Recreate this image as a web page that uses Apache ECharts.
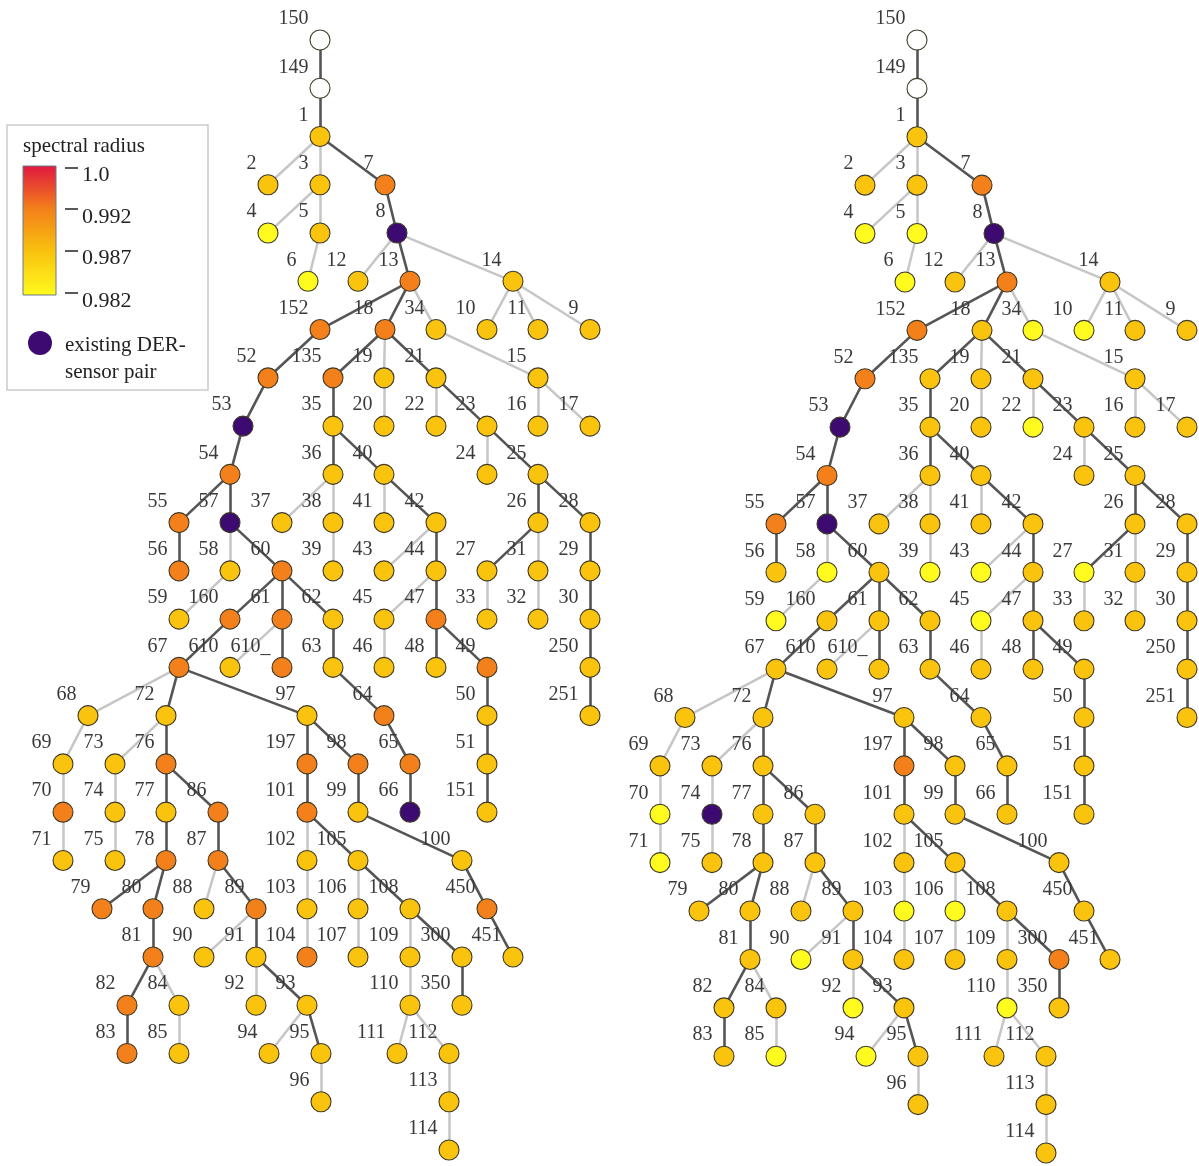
<!DOCTYPE html>
<html>
<head>
<meta charset="utf-8">
<script src="https://cdn.jsdelivr.net/npm/echarts@6/dist/echarts.min.js"></script>
<style>
html,body{margin:0;padding:0;background:#fff;}
#chart{width:1199px;height:1166px;}
</style>
</head>
<body>
<div id="chart"></div>
<script>
// ---------- DATA ----------
const nodeNames = ['150','149','1','2','3','7','4','5','8','6','12','13','14','152','18','34','10','11','9','52','135','19','21','15','53','35','20','22','23','16','17','54','36','40','24','25','55','57','37','38','41','42','26','28','56','58','60','39','43','44','27','31','29','59','160','61','62','45','47','33','32','30','67','610','610_','63','46','48','49','250','68','72','97','64','50','251','69','73','76','197','98','65','51','70','74','77','86','101','99','66','151','71','75','78','87','102','105','100','79','80','88','89','103','106','108','450','81','90','91','104','107','109','300','451','82','84','92','93','110','350','83','85','94','95','111','112','96','113','114'];

// horizontal layout coordinate of each bus (same layout for both panels)
const layoutX = [320,320,320,268,320,385,268,320,397,308,358,410,513,320,385,436,487,538,590,268,333,384,436,538,243,333,384,436,487,538,590,230,333,384,487,538,179,230,282,333,384,436,538,590,179,230,282,333,384,436,487,538,590,179,230,282,333,384,436,487,538,590,179,230,282,333,384,436,487,590,88,166,307,384,487,590,63,115,166,307,358,410,487,63,115,166,218,307,358,410,487,63,115,166,218,307,358,462,102,153,204,256,307,358,410,487,153,204,256,307,358,410,462,513,127,179,256,307,410,462,127,179,269,321,397,449,321,449,449];

// depth level (row) of each bus
const layoutLevel = [0,1,2,3,3,3,4,4,4,5,5,5,5,6,6,6,6,6,6,7,7,7,7,7,8,8,8,8,8,8,8,9,9,9,9,9,10,10,10,10,10,10,10,10,11,11,11,11,11,11,11,11,11,12,12,12,12,12,12,12,12,12,13,13,13,13,13,13,13,13,14,14,14,14,14,14,15,15,15,15,15,15,15,16,16,16,16,16,16,16,16,17,17,17,17,17,17,17,18,18,18,18,18,18,18,18,19,19,19,19,19,19,19,19,20,20,20,20,20,20,21,21,21,21,21,21,22,22,23];

// spectral radius per bus, left panel (null = source / DER node)
const leftRadius = [
  null,null,0.987,
  0.987,0.987,0.992,
  0.982,0.987,null,
  0.982,0.987,0.992,0.987,
  0.992,0.992,0.987,0.987,0.987,0.987,
  0.992,0.992,0.987,0.987,0.987,
  null,0.987,0.987,0.987,0.987,0.987,0.987,
  0.992,0.987,0.987,0.987,0.987,
  0.992,null,0.987,0.987,0.987,0.987,0.987,0.987,
  0.992,0.987,0.992,0.987,0.987,0.987,0.987,0.987,0.987,
  0.987,0.992,0.992,0.987,0.987,0.992,0.987,0.987,0.987,
  0.992,0.987,0.992,0.987,0.987,0.987,0.992,0.987,
  0.987,0.987,0.987,0.992,0.987,0.987,
  0.987,0.987,0.992,0.992,0.992,0.992,0.987,
  0.992,0.987,0.987,0.992,0.992,0.987,null,0.987,
  0.987,0.987,0.992,0.992,0.987,0.987,0.987,
  0.992,0.992,0.987,0.992,0.987,0.987,0.987,0.992,
  0.992,0.987,0.987,0.992,0.987,0.987,0.987,0.987,
  0.992,0.987,0.987,0.987,0.987,0.987,
  0.992,0.987,0.987,0.987,0.987,0.987,
  0.987,0.987,
  0.987
];
// spectral radius per bus, right panel
const rightRadius = [
  null,null,0.987,
  0.987,0.987,0.992,
  0.982,0.982,null,
  0.982,0.987,0.992,0.987,
  0.992,0.987,0.982,0.982,0.987,0.987,
  0.992,0.987,0.987,0.987,0.987,
  null,0.987,0.987,0.982,0.987,0.987,0.987,
  0.992,0.987,0.987,0.987,0.987,
  0.992,null,0.987,0.987,0.987,0.987,0.987,0.987,
  0.987,0.982,0.987,0.982,0.982,0.987,0.982,0.987,0.987,
  0.982,0.987,0.987,0.987,0.982,0.987,0.987,0.987,0.987,
  0.987,0.987,0.987,0.987,0.987,0.987,0.987,0.987,
  0.987,0.987,0.987,0.987,0.987,0.987,
  0.987,0.987,0.987,0.992,0.987,0.987,0.987,
  0.982,null,0.987,0.987,0.987,0.987,0.987,0.987,
  0.982,0.987,0.987,0.987,0.987,0.987,0.987,
  0.987,0.987,0.987,0.987,0.982,0.982,0.987,0.987,
  0.987,0.982,0.987,0.987,0.987,0.987,0.992,0.987,
  0.987,0.987,0.982,0.987,0.982,0.987,
  0.987,0.982,0.982,0.987,0.987,0.987,
  0.987,0.987,
  0.987
];

const leftDER = ['8','53','57','66'];
const rightDER = ['8','53','57','74'];

// main (dark) feeder segments and laterals (light)
const mainLineEdges = [['150','149'],['149','1'],['1','7'],['7','8'],['8','13'],['13','152'],['13','18'],['152','52'],['18','135'],['18','21'],['52','53'],['135','35'],['21','23'],['53','54'],['35','36'],['35','40'],['23','25'],['54','55'],['54','57'],['40','42'],['25','26'],['25','28'],['55','56'],['57','60'],['42','44'],['26','27'],['28','29'],['60','160'],['60','61'],['60','62'],['44','47'],['29','30'],['160','67'],['61','610_'],['62','63'],['47','48'],['47','49'],['30','250'],['67','72'],['67','97'],['63','64'],['49','50'],['250','251'],['72','76'],['97','197'],['97','98'],['64','65'],['50','51'],['76','77'],['76','86'],['197','101'],['98','99'],['65','66'],['51','151'],['77','78'],['86','87'],['101','105'],['99','100'],['78','79'],['78','80'],['87','89'],['105','108'],['100','450'],['80','81'],['89','91'],['108','300'],['450','451'],['81','82'],['91','93'],['300','350'],['82','83'],['93','95']];
const lateralEdges = [['1','2'],['1','3'],['3','4'],['3','5'],['5','6'],['8','12'],['8','14'],['13','34'],['14','10'],['14','11'],['14','9'],['18','19'],['34','15'],['19','20'],['21','22'],['15','16'],['15','17'],['23','24'],['36','37'],['36','38'],['40','41'],['57','58'],['38','39'],['42','43'],['26','31'],['58','59'],['44','45'],['27','33'],['31','32'],['61','610'],['45','46'],['67','68'],['68','69'],['72','73'],['69','70'],['73','74'],['70','71'],['74','75'],['101','102'],['87','88'],['102','103'],['105','106'],['89','90'],['103','104'],['106','107'],['108','109'],['81','84'],['91','92'],['109','110'],['84','85'],['93','94'],['110','111'],['110','112'],['95','96'],['112','113'],['113','114']];

const legendTicks = ['1.0','0.992','0.987','0.982'];
const colorStops = [[0.982,'#fffb1e'],[0.987,'#f9c30e'],[0.992,'#f3801a'],[1.0,'#e0173f']];

// ---------- STYLE ----------
const DER_COLOR = '#3d0a72';
const FONT = '"Liberation Serif", "DejaVu Serif", serif';

function hex2rgb(h){return [parseInt(h.slice(1,3),16),parseInt(h.slice(3,5),16),parseInt(h.slice(5,7),16)];}
function radiusColor(v){
  if (v <= colorStops[0][0]) return colorStops[0][1];
  for (let i=1;i<colorStops.length;i++){
    if (v <= colorStops[i][0]){
      const a=colorStops[i-1], b=colorStops[i];
      const t=(v-a[0])/(b[0]-a[0]);
      const ca=hex2rgb(a[1]), cb=hex2rgb(b[1]);
      const c=ca.map((x,k)=>Math.round(x+(cb[k]-x)*t));
      return 'rgb('+c.join(',')+')';
    }
  }
  return colorStops[colorStops.length-1][1];
}

function buildNodes(values, der){
  return nodeNames.map((n,i)=>{
    let color;
    if (der.indexOf(n) >= 0) color = DER_COLOR;
    else if (values[i] == null) color = '#ffffff';
    else color = radiusColor(values[i]);
    return {name:n, value:[layoutX[i], layoutLevel[i]], itemStyle:{color:color}};
  });
}
function buildLinks(){
  const l = [];
  lateralEdges.forEach(e=>l.push({source:e[0],target:e[1],lineStyle:{color:'#c6c6c6',width:2.5}}));
  mainLineEdges.forEach(e=>l.push({source:e[0],target:e[1],lineStyle:{color:'#555555',width:2.6}}));
  return l;
}

function graphSeries(idx, values, der){
  return {
    type:'graph',
    coordinateSystem:'cartesian2d',
    xAxisIndex:idx, yAxisIndex:idx,
    symbol:'circle',
    symbolSize:20,
    silent:true,
    animation:false,
    edgeSymbol:['none','none'],
    itemStyle:{borderColor:'#3f3a28',borderWidth:1.1},
    lineStyle:{opacity:1,curveness:0},
    label:{show:true,formatter:'{b}',position:'left',distance:1,offset:[0,-21],
      fontFamily:FONT,fontSize:20,color:'#3a3a3a'},
    emphasis:{disabled:true},
    data:buildNodes(values, der),
    links:buildLinks()
  };
}

const ticksY = [168,209,251,293];
const labelY = [175,217,258,301];
const graphics = [
  {type:'rect',shape:{x:7,y:125,width:201,height:265},style:{fill:'#fff',stroke:'#cccccc',lineWidth:1.5},z:10},
  {type:'text',x:23,y:146,style:{text:'spectral radius',font:'21px '+FONT,fill:'#222',verticalAlign:'middle'},z:11},
  {type:'rect',shape:{x:23,y:166,width:33,height:129},z:11,
    style:{stroke:'#6a7a8c',lineWidth:1,
      fill:new echarts.graphic.LinearGradient(0,0,0,1,[
        {offset:0,color:colorStops[3][1]},
        {offset:1/3,color:colorStops[2][1]},
        {offset:2/3,color:colorStops[1][1]},
        {offset:1,color:colorStops[0][1]}])}},
  {type:'circle',shape:{cx:40,cy:343,r:12},style:{fill:DER_COLOR},z:11},
  {type:'text',x:65,y:345,style:{text:'existing DER-',font:'21px '+FONT,fill:'#222',verticalAlign:'middle'},z:11},
  {type:'text',x:65,y:372,style:{text:'sensor pair',font:'21px '+FONT,fill:'#222',verticalAlign:'middle'},z:11}
];
legendTicks.forEach((t,i)=>{
  graphics.push({type:'line',shape:{x1:65,y1:ticksY[i],x2:78,y2:ticksY[i]},style:{stroke:'#222',lineWidth:1.5},z:11});
  graphics.push({type:'text',x:82,y:labelY[i],style:{text:t,font:'22px '+FONT,fill:'#222',verticalAlign:'middle'},z:11});
});

const chart = echarts.init(document.getElementById('chart'), null, {renderer:'canvas'});
chart.setOption({
  backgroundColor:'#ffffff',
  animation:false,
  grid:[
    {left:0,top:40,width:600,height:1110},
    {left:597,top:40,width:600,height:1113}
  ],
  xAxis:[
    {type:'value',gridIndex:0,min:0,max:600,show:false},
    {type:'value',gridIndex:1,min:0,max:600,show:false}
  ],
  yAxis:[
    {type:'value',gridIndex:0,min:0,max:23,inverse:true,show:false},
    {type:'value',gridIndex:1,min:0,max:23,inverse:true,show:false}
  ],
  graphic:graphics,
  series:[
    graphSeries(0, leftRadius, leftDER),
    graphSeries(1, rightRadius, rightDER)
  ]
});
</script>
</body>
</html>
